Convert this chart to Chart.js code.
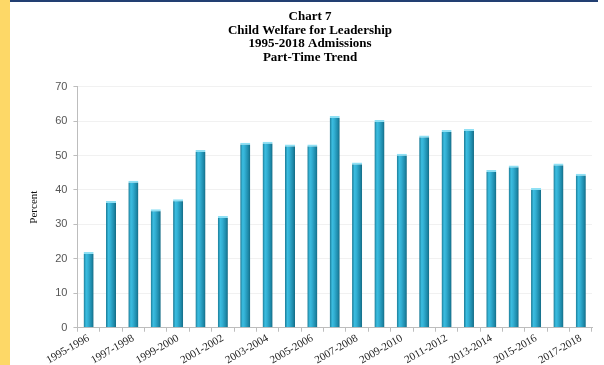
<!DOCTYPE html>
<html lang="en">
<head>
    <meta charset="UTF-8">
    <title>Chart 7 - Part-Time Trend</title>
<script src="https://cdn.jsdelivr.net/npm/chart.js"></script>
<style>
    html, body { margin: 0; padding: 0; background: #fff; }
    #page { position: relative; width: 604px; height: 365px; overflow: hidden; }
    #strip { position: absolute; left: 0; top: 0; width: 10px; height: 365px; background: #fdd867; }
    #topline { position: absolute; left: 10px; top: 0; width: 588px; height: 2px; background: #223f72; }
    #box { position: absolute; left: 10px; top: 0; width: 594px; height: 365px; }
</style>
</head>
<body>
<div id="page">
    <div id="strip"></div>
    <div id="topline"></div>
    <div id="box"><canvas id="myChart"></canvas></div>
</div>

<script>
    // school years on the x axis
    const years = ['1995-1996', '1996-1997', '1997-1998', '1998-1999', '1999-2000', '2000-2001',
                   '2001-2002', '2002-2003', '2003-2004', '2004-2005', '2005-2006', '2006-2007',
                   '2007-2008', '2008-2009', '2009-2010', '2010-2011', '2011-2012', '2012-2013',
                   '2013-2014', '2014-2015', '2015-2016', '2016-2017', '2017-2018'];
    // part-time percent
    const partTime = [22, 36.8, 42.7, 34.4, 37.3, 51.6, 32.4, 53.7, 54, 53.2, 53.2, 61.5,
                      48, 60.3, 50.5, 55.8, 57.4, 57.7, 45.8, 47.1, 40.6, 47.7, 44.7];
    const yTicks = [0, 10, 20, 30, 40, 50, 60, 70];
    const titleLines = ['Chart 7', 'Child Welfare for Leadership', '1995-2018 Admissions', 'Part-Time Trend'];

    // each bar gets a left->right shade like the original
    function barShade(context) {
        const chart = context.chart;
        if (!chart.chartArea || !chart.scales.x) return '#2aa3c6';
        const xs = chart.scales.x;
        const cx = xs.getPixelForValue(context.dataIndex);
        const half = xs.width / years.length * 0.45 / 2;
        const g = chart.ctx.createLinearGradient(cx - half, 0, cx + half, 0);
        g.addColorStop(0, '#1a7893');
        g.addColorStop(0.25, '#3bbde0');
        g.addColorStop(0.45, '#32afd3');
        g.addColorStop(0.8, '#1d89a9');
        g.addColorStop(1, '#156a83');
        return g;
    }

    const serif = '"Liberation Serif", "Times New Roman", serif';
    const ctx = document.getElementById('myChart');

    const trendChart = new Chart(ctx, {
        type: 'bar',
        data: {
            labels: years,
            datasets: [{
                label: 'Part-Time',
                data: partTime,
                backgroundColor: barShade,
                borderColor: '#8fe0f4',
                borderWidth: { top: 2, left: 0, right: 0, bottom: 0 },
                borderSkipped: 'bottom',
                barPercentage: 0.45,
                categoryPercentage: 1
            }]
        },
        options: {
            responsive: true,
            maintainAspectRatio: false,
            animation: false,
            layout: { padding: { left: 18, right: 12, top: 10, bottom: -2 } },
            plugins: {
                legend: { display: false },
                tooltip: { enabled: false },
                title: {
                    display: true,
                    text: titleLines,
                    color: '#000',
                    font: { family: serif, size: 13, weight: 'bold', lineHeight: 1.05 },
                    padding: { top: 0, bottom: 22 }
                }
            },
            scales: {
                x: {
                    grid: { drawOnChartArea: false, tickColor: '#bdbdbd', tickLength: 4 },
                    border: { color: '#bdbdbd' },
                    ticks: {
                        autoSkip: false,
                        minRotation: 30,
                        maxRotation: 30,
                        padding: 0,
                        color: '#222',
                        font: { family: serif, size: 11 },
                        callback: function(v, i) { return i % 2 === 0 ? years[i] : ''; }
                    }
                },
                y: {
                    min: yTicks[0],
                    max: yTicks[yTicks.length - 1],
                    afterBuildTicks: function(axis) { axis.ticks = yTicks.map(v => ({ value: v })); },
                    grid: { color: '#f1f1f1', tickColor: '#bdbdbd', tickLength: 4 },
                    border: { color: '#bdbdbd' },
                    title: {
                        display: true,
                        text: 'Percent',
                        color: '#111',
                        font: { family: serif, size: 11 },
                        padding: { top: 0, bottom: 8 }
                    },
                    ticks: {
                        padding: 6,
                        color: '#555',
                        font: { family: '"Liberation Sans", Arial, sans-serif', size: 11 }
                    }
                }
            }
        }
    });
</script>
</body>
</html>
